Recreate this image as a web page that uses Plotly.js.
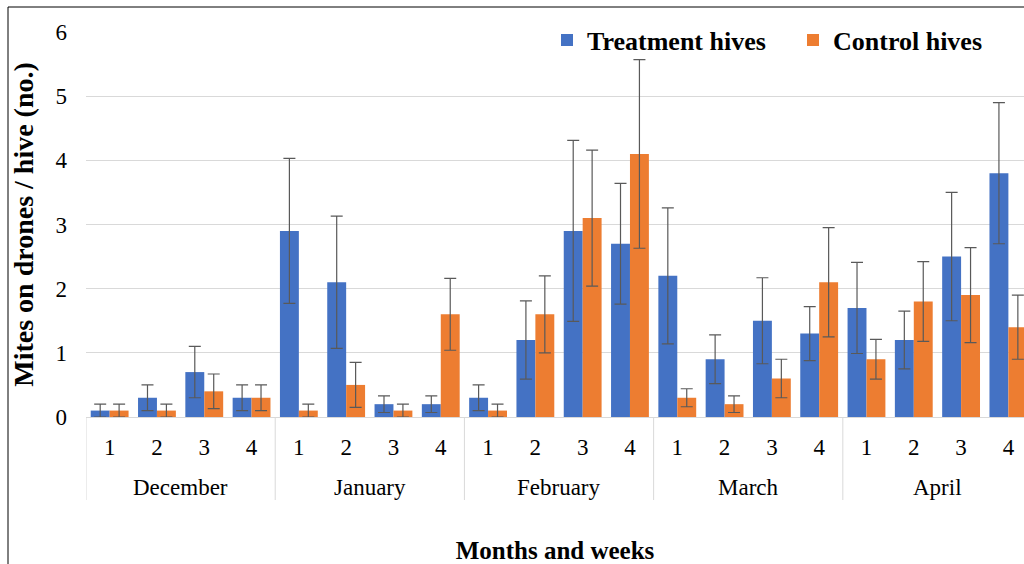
<!DOCTYPE html>
<html>
<head>
<meta charset="utf-8">
<script src="https://cdn.plot.ly/plotly-3.0.1.min.js"></script>
<style>html,body{margin:0;padding:0;background:#fff;}#chart{width:1024px;height:564px;}</style>
</head>
<body>
<div id="chart"></div>
<script>
const months = ["December", "January", "February", "March", "April"];
const weeks = ["1", "2", "3", "4"];
const treatment = [0.1, 0.3, 0.7, 0.3, 2.9, 2.1, 0.2, 0.2, 0.3, 1.2, 2.9, 2.7, 2.2, 0.9, 1.5, 1.3, 1.7, 1.2, 2.5, 3.8];
const treatmentErr = [0.1, 0.2, 0.4, 0.2, 1.13, 1.03, 0.13, 0.13, 0.2, 0.61, 1.41, 0.94, 1.06, 0.38, 0.67, 0.42, 0.71, 0.45, 1.0, 1.1];
const control = [0.1, 0.1, 0.4, 0.3, 0.1, 0.5, 0.1, 1.6, 0.1, 1.6, 3.1, 4.1, 0.3, 0.2, 0.6, 2.1, 0.9, 1.8, 1.9, 1.4];
const controlErr = [0.1, 0.1, 0.27, 0.2, 0.1, 0.35, 0.1, 0.56, 0.1, 0.6, 1.06, 1.47, 0.14, 0.13, 0.3, 0.85, 0.31, 0.62, 0.74, 0.5];

// Unique category keys (month + week), labelled with the week number only
const xKeys = [], xText = [];
months.forEach(m => weeks.forEach(w => { xKeys.push(m + ' ' + w); xText.push(w); }));

const errStyle = (arr) => ({type: 'data', array: arr, visible: true, color: '#595959', thickness: 1.2, width: 6});

const data = [
  {type: 'bar', name: 'Treatment hives', x: xKeys, y: treatment, legend: 'legend',
   marker: {color: '#4472C4'}, error_y: errStyle(treatmentErr)},
  {type: 'bar', name: 'Control hives', x: xKeys, y: control, legend: 'legend2',
   marker: {color: '#ED7D31'}, error_y: errStyle(controlErr)}
];

const W = 1024, L = 86, R = 0, T = 32, B = 147;
const pw = W - L - R, ph = 564 - T - B;
const py = (pix) => (417 - pix) / ph;

const legendFont = {size: 26, family: '"Liberation Serif", serif', weight: 'bold', color: '#000'};
const shapes = [
  {type: 'line', xref: 'paper', yref: 'paper', x0: (8 - L) / pw, x1: (8 - L) / pw, y0: py(570), y1: py(7),
   line: {color: '#000000', width: 1}},
  {type: 'line', xref: 'paper', yref: 'paper', x0: (8 - L) / pw, x1: 1.1, y0: py(7), y1: py(7),
   line: {color: '#000000', width: 1}}
];
const annotations = [];
months.forEach((m, i) => {
  const start = i * weeks.length - 0.5;
  shapes.push({type: 'line', xref: 'x', yref: 'paper', x0: start, x1: start, y0: 0, y1: py(500),
               line: {color: '#d9d9d9', width: 1}});
  annotations.push({xref: 'x', yref: 'paper', x: start + weeks.length / 2, y: py(487), yanchor: 'middle',
                    xanchor: 'center', text: m, showarrow: false,
                    font: {size: 23, family: '"Liberation Serif", serif', color: '#000'}});
});
shapes.push({type: 'line', xref: 'x', yref: 'paper', x0: months.length * weeks.length - 0.5,
             x1: months.length * weeks.length - 0.5, y0: 0, y1: py(500), line: {color: '#d9d9d9', width: 1}});

const layout = {
  width: 1024, height: 564,
  margin: {l: L, r: R, t: T, b: B, pad: 0},
  paper_bgcolor: '#ffffff', plot_bgcolor: '#ffffff',
  font: {family: '"Liberation Serif", "Times New Roman", serif', color: '#000000', size: 18},
  barmode: 'group', bargap: 0.2, bargroupgap: 0,
  showlegend: true,
  legend: {orientation: 'h', x: (547 - L) / pw, y: py(40), xanchor: 'left', yanchor: 'middle',
           font: legendFont, bgcolor: 'rgba(0,0,0,0)'},
  legend2: {orientation: 'h', x: (793 - L) / pw, y: py(40), xanchor: 'left', yanchor: 'middle',
           font: legendFont, bgcolor: 'rgba(0,0,0,0)'},
  xaxis: {type: 'category', range: [-0.5, 19.33], showgrid: false, zeroline: false,
          showline: true, linecolor: '#d9d9d9', linewidth: 1, ticks: '',
          tickmode: 'array', tickvals: xKeys, ticktext: xText,
          ticklabelstandoff: 9, automargin: false,
          tickfont: {size: 23, family: '"Liberation Serif", serif'},
          title: {text: '<b>Months and weeks</b>', font: {size: 25}, standoff: 87}},
  yaxis: {range: [0, 6], dtick: 1, showgrid: true, gridcolor: '#d9d9d9', gridwidth: 1,
          zeroline: false, showline: false, ticks: '', ticklen: 0,
          tickfont: {size: 23}, automargin: false, ticklabelstandoff: 18,
          title: {text: '<b>Mites on drones / hive (no.)</b>', font: {size: 28}, standoff: 13}},
  shapes: shapes,
  annotations: annotations
};

Plotly.newPlot('chart', data, layout, {displayModeBar: false, staticPlot: true});
</script>
</body>
</html>
